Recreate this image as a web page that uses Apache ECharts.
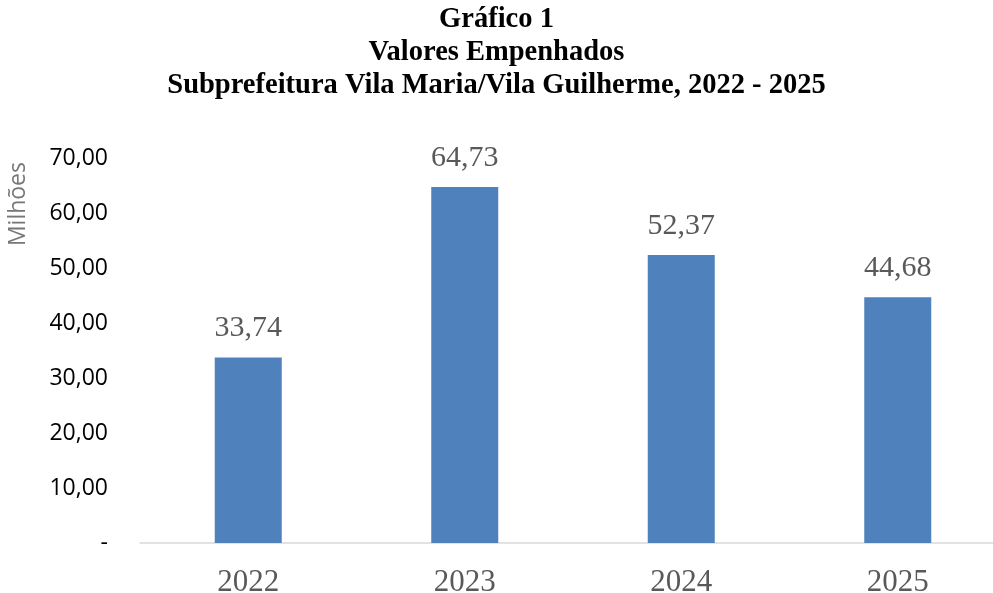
<!DOCTYPE html>
<html>
<head>
<meta charset="utf-8">
<script src="https://cdn.jsdelivr.net/npm/echarts@6/dist/echarts.min.js"></script>
<style>
  html, body { margin: 0; padding: 0; background: #fff; }
  #main { width: 993px; height: 593px; }
</style>
</head>
<body>
<div id="main"></div>
<script>
var anos = ['2022', '2023', '2024', '2025'];
var valores = [33.74, 64.73, 52.37, 44.68];
var titulo = 'Gráfico 1\nValores Empenhados\nSubprefeitura Vila Maria/Vila Guilherme, 2022 - 2025';

function fmt(v) {
     if (v === 0) return '-';
     return v.toFixed(2).replace('.', ',');
}

var chart = echarts.init(document.getElementById('main'));
var option = {
     animation: false,
     title: {
          text: titulo,
          left: 'center',
          top: -2,
          textStyle: {
               fontFamily: 'Liberation Serif',
               fontWeight: 'bold',
               fontSize: 28.5,
               lineHeight: 33,
               color: '#000'
          }
     },
     graphic: [{
          type: 'text',
          left: 7,
          top: 162,
          rotation: Math.PI / 2,
          style: {
               text: 'Milhões',
               fill: '#777',
               font: '23px "Open Sans"'
          }
     }],
     grid: { left: 140, top: 158, width: 866, bottom: 50, outerBoundsMode: 'none', containLabel: false },
     xAxis: {
          type: 'category',
          data: anos,
          axisTick: { show: false },
          axisLine: { lineStyle: { color: '#d9d9d9', width: 1.5 } },
          axisLabel: {
               fontFamily: 'Liberation Serif',
               fontSize: 31,
               color: '#595959',
               margin: 24
          }
     },
     yAxis: {
          type: 'value',
          min: 0,
          max: 70,
          interval: 10,
          splitLine: { show: false },
          axisLine: { show: false },
          axisLabel: {
               fontFamily: 'Open Sans',
               fontSize: 23,
               color: '#000',
               margin: 32,
               formatter: fmt
          }
     },
     series: [{
          type: 'bar',
          data: valores,
          barWidth: 67,
          itemStyle: { color: '#4F81BD' },
          label: {
               show: true,
               position: 'top',
               distance: 14,
               fontFamily: 'Liberation Serif',
               fontSize: 30,
               color: '#595959',
               formatter: function (p) { return fmt(p.value); }
          }
     }]
};
chart.setOption(option);
</script>
</body>
</html>
